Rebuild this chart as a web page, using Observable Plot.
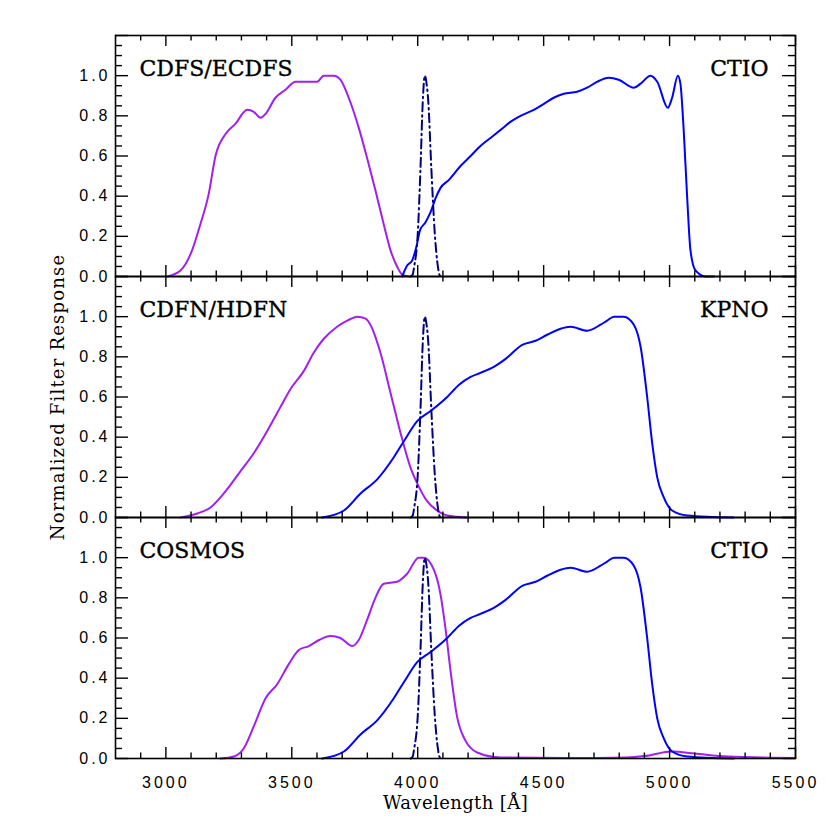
<!DOCTYPE html>
<html><head><meta charset="utf-8">
<script src="https://cdn.jsdelivr.net/npm/d3@7"></script>
<script src="https://cdn.jsdelivr.net/npm/@observablehq/plot@0.6"></script>
<style>
body{margin:0;background:#fff}
g[aria-label="x-axis tick label"] text, g[aria-label="y-axis tick label"] text {letter-spacing:3px}
</style>
</head><body><div id="chart"></div>
<script>
// ---- data ----
const panels = ["CDFS/ECDFS", "CDFN/HDFN", "COSMOS"];
const observatories = ["CTIO", "KPNO", "CTIO"];
const xTickLabels = [3000, 3500, 4000, 4500, 5000, 5500];
const yTickLabels = [0.0, 0.2, 0.4, 0.6, 0.8, 1.0];
const xTitle = "Wavelength [Å]";
const yTitle = "Normalized Filter Response";

// narrow-band filter (dash-dot), same in all panels
const narrowBand = [[3972,0],[3980,0.01],[3986,0.05],[4000,0.21],[4011,0.54],[4020,0.87],[4028,1.0],[4034,0.97],[4042,0.87],[4054,0.54],[4068,0.21],[4080,0.05],[4086,0.01],[4092,0]];

// CDFS/ECDFS, CTIO U (purple)
const cdfsU = [[3005,0],[3058,0.03],[3104,0.13],[3137,0.26],[3170,0.41],[3197,0.60],[3237,0.71],[3276,0.76],[3323,0.83],[3349,0.82],[3376,0.79],[3396,0.81],[3435,0.89],[3475,0.93],[3515,0.97],[3548,0.97],[3601,0.97],[3627,1.0],[3667,1.0],[3693,0.98],[3726,0.89],[3766,0.74],[3799,0.59],[3832,0.43],[3865,0.26],[3892,0.13],[3918,0.05],[3938,0.01],[3965,0]];
// CDFS/ECDFS, CTIO B (blue)
const cdfsB = [[3938,0],[3958,0.055],[3978,0.08],[3995,0.15],[4009,0.23],[4031,0.27],[4051,0.32],[4071,0.39],[4090,0.44],[4123,0.48],[4170,0.55],[4210,0.60],[4249,0.65],[4289,0.69],[4329,0.73],[4368,0.77],[4408,0.80],[4461,0.83],[4501,0.86],[4540,0.89],[4580,0.91],[4633,0.92],[4673,0.94],[4713,0.97],[4759,0.99],[4798,0.98],[4858,0.94],[4885,0.96],[4924,1.0],[4951,0.97],[4993,0.84],[5010,0.89],[5033,1.0],[5043,0.96],[5056,0.73],[5070,0.39],[5083,0.13],[5103,0.03],[5143,0],[5176,0]];
// CDFN/HDFN, KPNO U (purple)
const cdfnU = [[3058,0],[3124,0.02],[3177,0.05],[3230,0.12],[3296,0.23],[3349,0.32],[3402,0.43],[3455,0.55],[3495,0.64],[3548,0.73],[3587,0.82],[3627,0.89],[3680,0.95],[3720,0.98],[3760,1.0],[3793,0.99],[3812,0.96],[3852,0.82],[3892,0.62],[3932,0.42],[3971,0.25],[3998,0.17],[4038,0.08],[4077,0.035],[4117,0.01],[4196,0]];
// broad B (blue), CDFN/HDFN and COSMOS
const broadB = [[3621,0],[3707,0.035],[3773,0.12],[3839,0.19],[3905,0.30],[3945,0.38],[3998,0.48],[4051,0.53],[4117,0.60],[4163,0.66],[4210,0.70],[4249,0.72],[4302,0.75],[4349,0.79],[4415,0.86],[4468,0.88],[4514,0.91],[4567,0.94],[4607,0.95],[4673,0.93],[4726,0.96],[4752,0.98],[4779,1.0],[4818,1.0],[4858,0.96],[4885,0.85],[4911,0.60],[4931,0.37],[4951,0.20],[4977,0.10],[5010,0.035],[5070,0.01],[5255,0]];
// COSMOS, CTIO U (purple)
const cosmosU = [[3217,0],[3270,0.01],[3309,0.05],[3349,0.16],[3396,0.30],[3442,0.37],[3488,0.47],[3528,0.54],[3568,0.56],[3608,0.59],[3654,0.61],[3693,0.60],[3740,0.56],[3766,0.59],[3799,0.69],[3832,0.80],[3865,0.87],[3918,0.88],[3958,0.92],[4004,1.0],[4024,1.0],[4064,0.94],[4090,0.82],[4110,0.65],[4130,0.44],[4156,0.21],[4189,0.09],[4236,0.03],[4329,0.005],[4600,0.002],[4832,0.005],[4900,0.012],[5010,0.035],[5100,0.025],[5230,0.01],[5500,0.003]];

// ---- build tables ----
function rows(panel, pts) { return pts.map(([x, y]) => ({panel, x, y})); }
const uRows = [...rows(panels[0], cdfsU), ...rows(panels[1], cdfnU), ...rows(panels[2], cosmosU)];
const bRows = [...rows(panels[0], cdfsB), ...rows(panels[1], broadB), ...rows(panels[2], broadB)];
const nbRows = panels.flatMap(p => rows(p, narrowBand));

const W = 830, H = 830, mL = 115, mR = 35, mT = 35, mB = 72;
const panelH = (H - mT - mB) / 3, frameW = W - mL - mR;
const xMinor = d3.range(2900, 5500, 100).filter(v => !xTickLabels.includes(v));
const yMajor = [...yTickLabels, 1.2];
const yMinor = d3.range(0.05, 1.2, 0.05).filter(v => Math.abs(v * 5 - Math.round(v * 5)) > 1e-6);
const tk = {stroke: "black", strokeWidth: 1.4};
const lbl = {fontFamily: "DejaVu Serif", fontSize: 22, stroke: "black", strokeWidth: 0.35, fill: "black"};

const chart = Plot.plot({
  width: W, height: H,
  marginLeft: mL, marginRight: mR, marginTop: mT, marginBottom: mB,
  style: {background: "white", color: "black"},
  x: {domain: [2800, 5500]},
  y: {domain: [0, 1.2]},
  fy: {domain: panels, padding: 0, axis: null},
  marks: [
    Plot.line(uRows, {x: "x", y: "y", fy: "panel", stroke: "#a020f0", strokeWidth: 2, curve: "monotone-x"}),
    Plot.line(bRows, {x: "x", y: "y", fy: "panel", stroke: "#0000ff", strokeWidth: 2, curve: "monotone-x"}),
    Plot.line(nbRows, {x: "x", y: "y", fy: "panel", stroke: "#000080", strokeWidth: 2, strokeDasharray: "9,4,1.5,4", curve: "monotone-x"}),
    // inward ticks on all four sides
    Plot.tickX(xTickLabels, {x: d => d, insetTop: panelH - 11, ...tk}),
    Plot.tickX(xTickLabels, {x: d => d, insetBottom: panelH - 11, ...tk}),
    Plot.tickX(xMinor, {x: d => d, insetTop: panelH - 5.5, ...tk}),
    Plot.tickX(xMinor, {x: d => d, insetBottom: panelH - 5.5, ...tk}),
    Plot.tickY(yMajor, {y: d => d, insetRight: frameW - 13, ...tk}),
    Plot.tickY(yMajor, {y: d => d, insetLeft: frameW - 13, ...tk}),
    Plot.tickY(yMinor, {y: d => d, insetRight: frameW - 7, ...tk}),
    Plot.tickY(yMinor, {y: d => d, insetLeft: frameW - 7, ...tk}),
    Plot.frame({stroke: "black", strokeWidth: 1.6}),
    Plot.axisX({ticks: xTickLabels, tickSize: 0, tickPadding: 18, tickFormat: d => String(d), label: null, fontFamily: "Liberation Sans", fontSize: 16}),
    Plot.axisY({ticks: yTickLabels, tickSize: 0, tickPadding: 5, tickFormat: d3.format(".1f"), label: null, fontFamily: "Liberation Sans", fontSize: 16}),
    Plot.text(panels, {fy: d => d, text: d => d, frameAnchor: "top-left", textAnchor: "start", lineAnchor: "bottom", dx: 24, dy: 40, ...lbl}),
    Plot.text(panels, {fy: d => d, text: (d, i) => observatories[i], frameAnchor: "top-right", textAnchor: "end", lineAnchor: "bottom", dx: -27, dy: 40, ...lbl}),
    Plot.text([xTitle], {fy: () => panels[2], text: d => d, frameAnchor: "bottom", textAnchor: "middle", lineAnchor: "bottom", dy: 50, fontFamily: "DejaVu Serif", fontSize: 18}),
    Plot.text([yTitle], {fy: () => panels[1], text: d => d, frameAnchor: "left", textAnchor: "middle", lineAnchor: "middle", rotate: -90, dx: -57, fontFamily: "DejaVu Serif", fontSize: 18})
  ]
});
d3.select(chart).selectAll("text").filter(function() { return this.textContent === xTitle; }).style("letter-spacing", "0.4px");
d3.select(chart).selectAll("text").filter(function() { return this.textContent === yTitle; }).style("letter-spacing", "1.2px");
document.getElementById("chart").appendChild(chart);
</script>
</body></html>
